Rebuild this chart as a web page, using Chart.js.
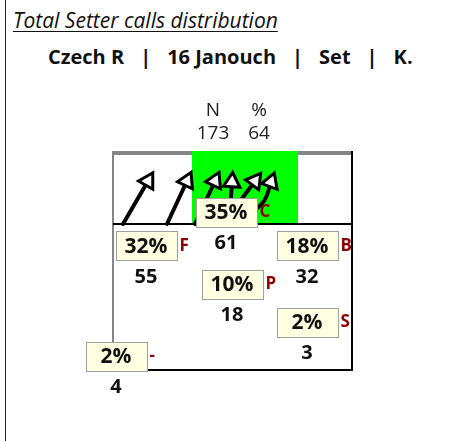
<!DOCTYPE html>
<html>
<head>
<meta charset="utf-8">
<title>Total Setter calls distribution</title>
<script src="https://cdn.jsdelivr.net/npm/chart.js@4"></script>
<style>
    html, body { margin: 0; padding: 0; background: #fff; }
    #wrap {
        position: relative;
        width: 454px;
        height: 441px;
        overflow: hidden;
        font-family: 'Open Sans', sans-serif;
        color: #111;
    }
    #frame { position: absolute; left: 5px; top: 0; width: 1px; height: 441px; background: #222; }
    #title {
        position: absolute; left: 13px; top: 10px;
        font-size: 21px; font-style: italic; line-height: 1;
        text-decoration: underline; text-decoration-thickness: 1px; text-underline-offset: 3px;
        white-space: nowrap;
    }
    #subtitle {
        position: absolute; left: 48px; top: 47px;
        font-size: 20px; font-weight: bold; line-height: 1;
        white-space: pre;
    }
    #subtitle .sep { margin: 0 16px; }
    canvas { position: absolute; left: 0; top: 0; }
</style>
</head>
<body>
<div id="wrap">
    <div id="frame"></div>
    <div id="title">Total Setter calls distribution</div>
    <div id="subtitle">Czech R<span class="sep">|</span>16 Janouch<span class="sep">|</span>Set<span class="sep">|</span>K.</div>
    <canvas id="court" width="454" height="441"></canvas>
</div>
<script>
// Data
const headerLabels = ['N', '%'];
const headerValues = [173, 64];
const zoneNames = ['C', 'F', 'B', 'P', 'S', '-'];
const zoneCounts = [61, 55, 32, 18, 3, 4];
const zonePercents = [35, 32, 18, 10, 2, 2];

// Set directions (diagram units, last point = arrow head)
const setDirections = [
    [{ x: 123, y: 224 }, { x: 148, y: 181 }],
    [{ x: 167, y: 224 }, { x: 187, y: 181 }],
    [{ x: 195, y: 224 }, { x: 215, y: 181 }],
    [{ x: 229, y: 224 }, { x: 232, y: 182 }],
    [{ x: 232, y: 212 }, { x: 255, y: 181 }],
    [{ x: 252, y: 212 }, { x: 264, y: 201 }, { x: 271, y: 182 }]
];

// Layout (diagram units)
const COURT = { left: 112, right: 353, top: 151, net: 224, bottom: 371 };
const FRONT_ZONE = { left: 192, right: 298 };
const headerX = [213, 259];
const headerY = [111, 134];
const zoneBoxCenters = [
    [226, 212], [146, 246], [307, 246], [232, 284], [307, 322], [116, 356]
];
const BOX = { w: 61, h: 29 };
const FONT = '"Open Sans", sans-serif';

// court lines and front zone
const courtPlugin = {
    id: 'court',
    beforeDatasetsDraw(chart) {
        const { ctx, scales: { x, y } } = chart;
        const L = x.getPixelForValue(COURT.left);
        const R = x.getPixelForValue(COURT.right);
        const T = y.getPixelForValue(COURT.top);
        const N = y.getPixelForValue(COURT.net);
        const B = y.getPixelForValue(COURT.bottom);
        ctx.save();
        ctx.fillStyle = '#858585';
        ctx.fillRect(L, T, R - L, 4);
        ctx.fillRect(L, T, 2, B - T);
        ctx.fillStyle = '#00ff00';
        const gl = x.getPixelForValue(FRONT_ZONE.left);
        const gr = x.getPixelForValue(FRONT_ZONE.right);
        ctx.fillRect(gl, T, gr - gl, N - T);
        ctx.fillStyle = '#000';
        ctx.fillRect(L + 1, N - 1, R - L - 1, 2);
        ctx.fillRect(R - 2, T, 2, B - T);
        ctx.fillRect(L, B - 2, R - L, 2);
        ctx.restore();
    }
};

// header, zone boxes, counts
const labelPlugin = {
    id: 'zoneLabels',
    afterDatasetsDraw(chart) {
        const { ctx, scales: { x, y } } = chart;
        ctx.save();
        ctx.textBaseline = 'middle';
        ctx.textAlign = 'center';
        ctx.fillStyle = '#222';
        ctx.font = '19px ' + FONT;
        headerLabels.forEach((label, i) => {
            const px = x.getPixelForValue(headerX[i]);
            ctx.fillText(label, px, y.getPixelForValue(headerY[0]));
            ctx.fillText(String(headerValues[i]), px, y.getPixelForValue(headerY[1]));
        });

        zoneNames.forEach((name, i) => {
            const cx = x.getPixelForValue(zoneBoxCenters[i][0]);
            const cy = y.getPixelForValue(zoneBoxCenters[i][1]);
            const bx = Math.round(cx - BOX.w / 2) + 0.5;
            const by = Math.round(cy - BOX.h / 2) + 0.5;
            ctx.fillStyle = '#ffffe1';
            ctx.fillRect(bx, by, BOX.w, BOX.h);
            ctx.strokeStyle = '#a0a0a0';
            ctx.lineWidth = 1;
            ctx.strokeRect(bx, by, BOX.w, BOX.h);

            ctx.textAlign = 'center';
            ctx.fillStyle = '#111';
            ctx.font = 'bold 21px ' + FONT;
            ctx.fillText(zonePercents[i] + '%', cx, cy + 1);

            ctx.font = 'bold 20px ' + FONT;
            ctx.fillText(String(zoneCounts[i]), cx, cy + 31);

            ctx.textAlign = 'left';
            ctx.fillStyle = '#8b0000';
            ctx.font = 'bold 17px ' + FONT;
            ctx.fillText(name, cx + BOX.w / 2 + 3, cy);
        });
        ctx.restore();
    }
};

function buildArrowDatasets() {
    return setDirections.map(path => {
        const last = path[path.length - 1];
        const prev = path[path.length - 2];
        // y grows downwards on this diagram
        const angle = Math.atan2(last.x - prev.x, -(last.y - prev.y)) * 180 / Math.PI;
        const isHead = (p, i) => i === path.length - 1;
        return {
            data: path,
            showLine: true,
            borderColor: '#000',
            borderWidth: 4,
            borderCapStyle: 'round',
            tension: path.length > 2 ? 0.5 : 0,
            pointStyle: 'triangle',
            pointRadius: path.map((p, i) => isHead(p, i) ? 9.5 : 0),
            pointRotation: path.map((p, i) => isHead(p, i) ? angle : 0),
            pointBackgroundColor: '#fff',
            pointBorderColor: '#000',
            pointBorderWidth: 3
        };
    });
}

new Chart(document.getElementById('court'), {
    type: 'scatter',
    data: { datasets: buildArrowDatasets() },
    options: {
        responsive: false,
        animation: false,
        events: [],
        layout: { padding: 0, autoPadding: false },
        plugins: {
            legend: { display: false },
            tooltip: { enabled: false },
            title: { display: false }
        },
        scales: {
            x: { type: 'linear', min: 0, max: 454, display: false },
            y: { type: 'linear', min: 0, max: 441, reverse: true, display: false }
        }
    },
    plugins: [courtPlugin, labelPlugin]
});
</script>
</body>
</html>
